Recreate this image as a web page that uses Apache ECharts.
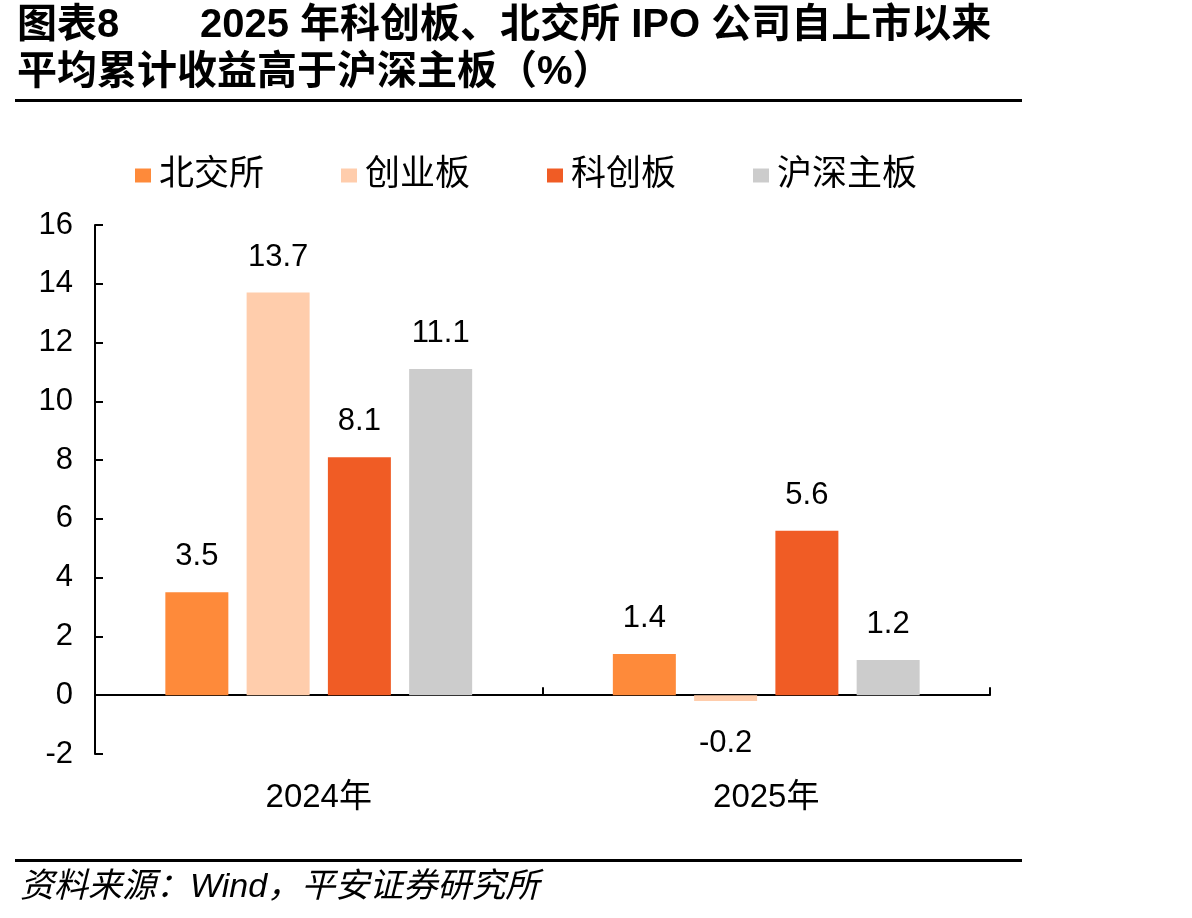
<!DOCTYPE html>
<html>
<head>
<meta charset="utf-8">
<script src="https://cdn.jsdelivr.net/npm/echarts@6/dist/echarts.min.js"></script>
<style>
html,body{margin:0;padding:0;background:#fff}
#main{width:1192px;height:918px}
</style>
</head>
<body>
<div id="main"></div>
<script>
// 数据
const years = ['2024年', '2025年']
const names = ['北交所', '创业板', '科创板', '沪深主板']
const bjs = [3.5, 1.4]
const cyb = [13.7, -0.2]
const kcb = [8.1, 5.6]
const hszb = [11.1, 1.2]
const colors = ['#FE8A3A', '#FFCDAC', '#F05C25', '#CCCCCC']

const FONT = 'Liberation Sans, Arial, Noto Sans CJK SC, sans-serif'

function makeSeries(name, data, color) {
    return {
        name: name,
        type: 'bar',
        // 负值标签放在柱子下方
        data: data.map(v => v < 0 ? { value: v, label: { position: 'bottom', distance: 27 } } : v),
        barWidth: 63,
        barGap: '29%',
        itemStyle: { color: color },
        label: {
            show: true,
            position: 'top',
            distance: 20,
            color: '#000',
            fontSize: 31,
            fontFamily: FONT,
            formatter: p => p.value.toFixed(1)
        }
    }
}

const series = [
    makeSeries(names[0], bjs, colors[0]),
    makeSeries(names[1], cyb, colors[1]),
    makeSeries(names[2], kcb, colors[2]),
    makeSeries(names[3], hszb, colors[3])
]

const chart = echarts.init(document.getElementById('main'))
const option = {
    animation: false,
    graphic: [
        { type: 'text', left: 17, top: 6, style: { text: '图表8', font: 'bold 40px ' + FONT, fill: '#000' } },
        { type: 'text', left: 200, top: 6, style: { text: '2025 年科创板、北交所 IPO 公司自上市以来', font: 'bold 40px ' + FONT, fill: '#000' } },
        { type: 'text', left: 17, top: 53, style: { text: '平均累计收益高于沪深主板（%）', font: 'bold 40px ' + FONT, fill: '#000' } },
        { type: 'rect', shape: { x: 15, y: 99, width: 1007, height: 3 }, style: { fill: '#000' } },
        { type: 'rect', shape: { x: 15, y: 859, width: 1007, height: 3 }, style: { fill: '#000' } },
        { type: 'text', left: 20, top: 871, style: { text: '资料来源：Wind，平安证券研究所', font: 'italic 34px ' + FONT, fill: '#000' } }
    ],
    legend: {
        top: 153,
        left: 130,
        itemWidth: 16,
        itemHeight: 14,
        itemGap: 77,
        icon: 'rect',
        textStyle: { fontSize: 35, fontFamily: FONT, color: '#000', padding: [0, 0, 0, 3] },
        data: names
    },
    grid: { left: 95, right: 202, top: 225, bottom: 164, containLabel: false },
    xAxis: {
        type: 'category',
        data: years,
        axisLine: { onZero: true, lineStyle: { color: '#000', width: 2 } },
        axisTick: { show: true, inside: true, length: 8, lineStyle: { color: '#000', width: 2 } },
        axisLabel: { margin: 27, fontSize: 33, fontFamily: FONT, color: '#000' }
    },
    yAxis: {
        type: 'value',
        min: -2,
        max: 16,
        interval: 2,
        splitLine: { show: false },
        axisLine: { show: true, lineStyle: { color: '#000', width: 2 } },
        axisTick: { show: true, inside: true, length: 8, lineStyle: { color: '#000', width: 2 } },
        axisLabel: { margin: 22, fontSize: 31, fontFamily: FONT, color: '#000' }
    },
    series: series
}
chart.setOption(option)
</script>
</body>
</html>
